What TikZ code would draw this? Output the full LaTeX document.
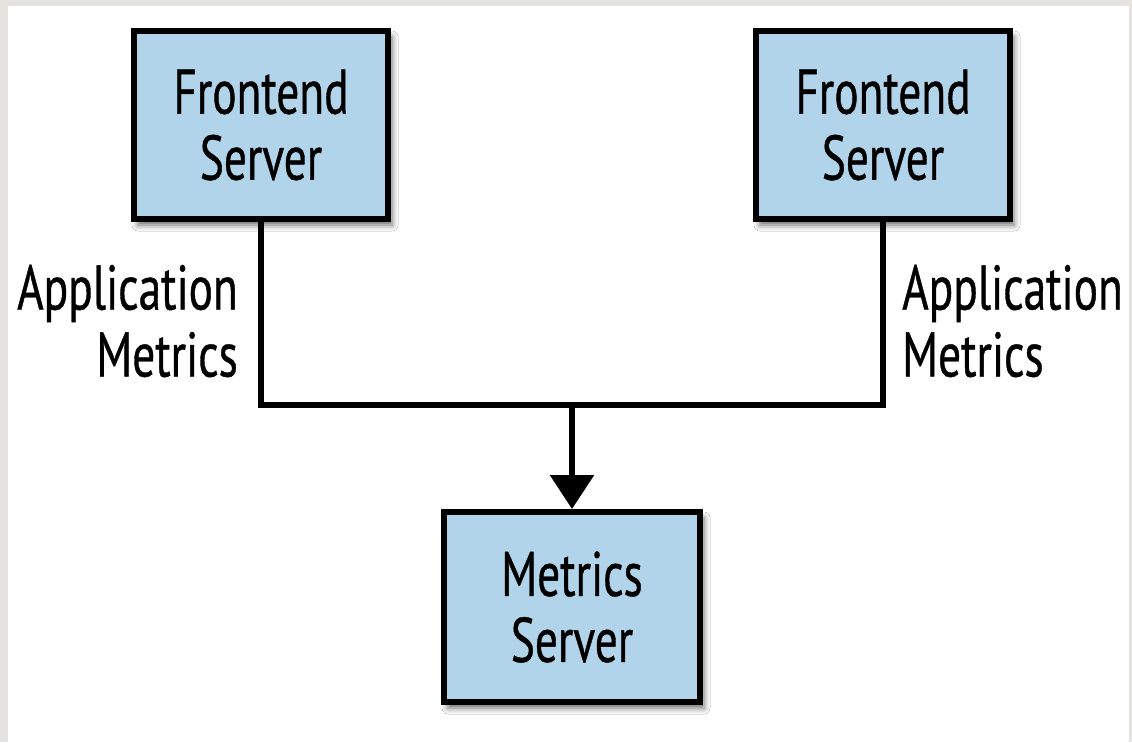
\documentclass[tikz,border=0pt]{standalone}
\usepackage{fontspec}
\setmainfont[FakeStretch=0.72,FakeBold=0.6]{PT Sans}
\usetikzlibrary{arrows.meta,shadows.blur}
\definecolor{boxblue}{HTML}{B2D4EA}
\definecolor{framegrey}{HTML}{E4E3DF}
\tikzset{
  server/.style={draw=black, line width=6pt, fill=boxblue, minimum width=254pt, minimum height=188pt,
    align=center, inner sep=0pt, font=\fontsize{63}{66}\selectfont,
    blur shadow={shadow xshift=4pt, shadow yshift=-6pt, shadow blur radius=6pt, shadow opacity=60}},
  wire/.style={line width=6pt, line join=miter},
  lbl/.style={font=\fontsize{63}{67}\selectfont, inner sep=0pt}
}
\begin{document}
\begin{tikzpicture}[x=1pt,y=-1pt]
\fill[framegrey] (0,0) rectangle (1132,742);
\fill[white] (8,6) rectangle (1129,742);
\useasboundingbox (0,0) rectangle (1132,742);
\node[server] (fl) at (261,125) {Frontend\\Server};
\node[server] (fr) at (883,125) {Frontend\\Server};
\node[server, minimum width=256pt, minimum height=190pt] (ms) at (572,607) {Metrics\\Server};
\coordinate (j) at (572,405);
\draw[wire] (fl.south) |- (j) -| (fr.south);
\draw[wire, -{Triangle[length=34pt,width=43pt]}] (j) -- (ms.north);
\node[lbl, align=right, anchor=east] (ll) at (238,321) {Application\\Metrics};
\node[lbl, align=left, anchor=west] (rl) at (902,321) {Application\\Metrics};
\end{tikzpicture}
\end{document}
